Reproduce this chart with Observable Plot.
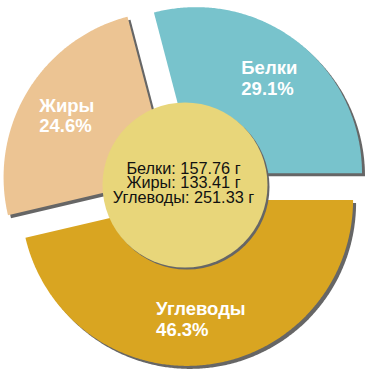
<!DOCTYPE html>
<html><head><meta charset="utf-8">
<script src="https://cdn.jsdelivr.net/npm/d3@7"></script>
<script src="https://cdn.jsdelivr.net/npm/@observablehq/plot@0.6"></script>
<style>body{margin:0;background:#fff}</style>
</head><body><div id="chart"></div>
<script>
// ---- data ----
const categories = ["Белки", "Жиры", "Углеводы"];
const grams = [157.76, 133.41, 251.33];
const percentLabels = ["29.1%", "24.6%", "46.3%"];
const unit = "г";
const sliceColors = ["#78c3cc", "#ecc493", "#d9a521"];

// ---- layout ----
const W = 370, H = 370;
const cx = 184.5, cy = 184.5;
const R = 166, explodeX = 18, explodeY = 15, labelR = 120;
const FONT = "'Liberation Sans', Arial, sans-serif";
const labelSize = 18.5, centerSize = 16.3;

const total = d3.sum(grams);
let acc = 0;
const slices = categories.map((c, i) => {
  const a0 = acc / total * 2 * Math.PI; acc += grams[i];
  const a1 = acc / total * 2 * Math.PI;
  const mid = (a0 + a1) / 2;
  return {c, i, a0, a1, mid, ox: explodeX * Math.cos(mid), oy: explodeY * Math.sin(mid)};
});

const pts = [];
for (const s of slices) {
  pts.push({key: s.c, x: s.ox, y: s.oy});
  const n = Math.ceil((s.a1 - s.a0) / (Math.PI / 360));
  for (let k = 0; k <= n; k++) {
    const a = s.a0 + (s.a1 - s.a0) * k / n;
    pts.push({key: s.c, x: s.ox + R * Math.cos(a), y: s.oy + R * Math.sin(a)});
  }
}

const ctx = document.createElement("canvas").getContext("2d");
ctx.font = `bold ${labelSize}px ${FONT}`;
const labels = slices.map(s => {
  const lines = [s.c, percentLabels[s.i]];
  const w = d3.max(lines, t => ctx.measureText(t).width);
  return {
    x: s.ox + labelR * Math.cos(s.mid) - w / 2,
    y: s.oy + labelR * Math.sin(s.mid),
    text: lines.join("\n")
  };
});
const centerText = [{x: -1.5, y: 1.2,
  text: categories.map((c, i) => `${c}: ${grams[i].toFixed(2)} ${unit}`).join("\n")}];
const hub = [{x: 0, y: 0}];

const plot = Plot.plot({
  width: W, height: H, margin: 0,
  style: {background: "white"},
  x: {domain: [-cx, W - cx], axis: null},
  y: {domain: [-(H - cy), cy], axis: null},
  color: {domain: categories, range: sliceColors},
  marks: [
    Plot.line(pts, {x: "x", y: "y", z: "key", fill: "#666", stroke: "none", curve: "linear-closed", dx: 3, dy: 3}),
    Plot.line(pts, {x: "x", y: "y", z: "key", fill: "key", stroke: "none", curve: "linear-closed"}),
    Plot.dot(hub, {x: "x", y: "y", r: 82.5, fill: "#666", stroke: "none", dx: 2, dy: 2}),
    Plot.dot(hub, {x: "x", y: "y", r: 82.5, fill: "#e8d67a", stroke: "none"}),
    Plot.text(labels, {x: "x", y: "y", text: "text", textAnchor: "start", lineAnchor: "middle",
      fill: "white", fontWeight: "bold", fontSize: labelSize, lineHeight: 1.11, fontFamily: FONT}),
    Plot.text(centerText, {x: "x", y: "y", text: "text", textAnchor: "middle", lineAnchor: "middle",
      fill: "#111", fontSize: centerSize, lineHeight: 0.88, fontFamily: FONT})
  ]
});
document.getElementById("chart").appendChild(plot);
</script>
</body></html>
